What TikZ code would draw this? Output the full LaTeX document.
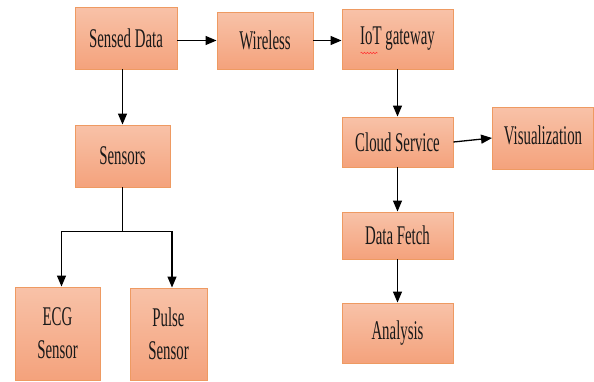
\documentclass[tikz,border=0pt]{standalone}
\usepackage{fontspec}
\newfontfamily\boxfont[FakeStretch=0.55]{Liberation Serif}
\usetikzlibrary{arrows.meta,decorations.pathmorphing,calc}
\definecolor{boxtop}{HTML}{F8C2A8}
\definecolor{boxbot}{HTML}{F4A27C}
\definecolor{boxline}{HTML}{EE9A62}
\begin{document}
\begin{tikzpicture}[x=1pt,y=-1pt,
  block/.style={draw=boxline, line width=0.9pt,
    top color=boxtop, bottom color=boxbot,
    font=\boxfont\fontsize{27}{33}\selectfont, text=black!90, align=center,
    inner sep=0pt},
  link/.style={line width=1.3pt, -{Triangle[length=11pt,width=9pt]}},
  plain/.style={line width=1.3pt}]
\useasboundingbox (0,0) rectangle (594,381);

% blocks
\node[block, minimum width=102, minimum height=62] (sd)  at (126,38)    {Sensed Data};
\node[block, minimum width=96,  minimum height=57] (wl)  at (265,40.5)  {Wireless};
\node[block, minimum width=111, minimum height=60] (iot) at (397.5,39)  {IoT gateway};
\node[block, minimum width=111, minimum height=50] (cl)  at (397.5,142) {Cloud Service};
\node[block, minimum width=101, minimum height=62, text depth=6pt] (vis) at (543,138) {Visualization};
\node[block, minimum width=111, minimum height=47] (df)  at (397.5,235.5) {Data Fetch};
\node[block, minimum width=111, minimum height=60] (an)  at (397.5,333) {Analysis};
\node[block, minimum width=95,  minimum height=62] (sen) at (122.5,156) {Sensors};
\node[block, minimum width=85,  minimum height=93] (ecg) at (57.5,333.5) {ECG\\Sensor};
\node[block, minimum width=77,  minimum height=92] (pul) at (168.5,334) {Pulse\\Sensor};

% spell-check underline under "IoT"
\coordinate (wvA) at ($(iot.center)+(-37,14)$);
\coordinate (wvB) at ($(iot.center)+(-20,14)$);
\draw[red!80, line width=0.5pt, decorate,
  decoration={snake, amplitude=0.8pt, segment length=3pt}] (wvA) -- (wvB);

% connectors
\draw[link] (sd.east |- wl.west) -- (wl.west);
\draw[link] (wl.east) -- (iot.west |- wl.east);
\draw[link] (iot.south) -- (cl.north);
\draw[link] (cl.east) -- (vis.west);
\draw[link] (cl.south) -- (df.north);
\draw[link] (df.south) -- (an.north);
\draw[link] (sen.north |- sd.south) -- (sen.north);

\coordinate (split) at ($(sen.south)+(0,44)$);
\draw[plain] (sen.south) -- (split);
\draw[link] (split) -| ($(ecg.north)+(4,0)$);
\draw[link] (split) -| ($(pul.north)+(3.5,0)$);
\end{tikzpicture}
\end{document}
